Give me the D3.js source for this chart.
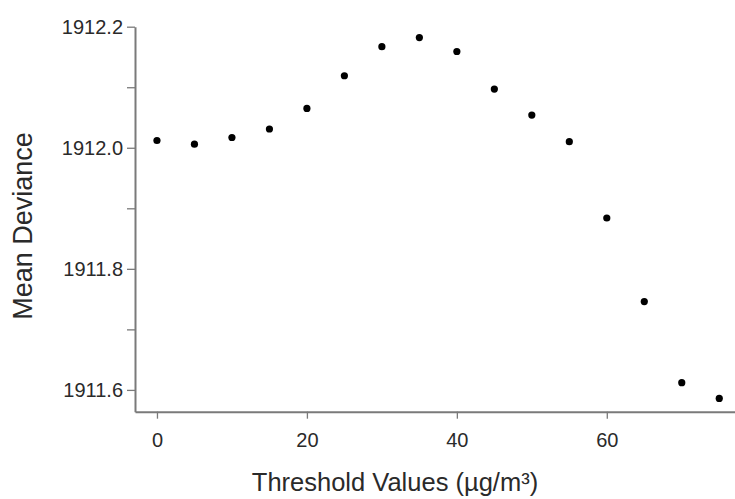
<!DOCTYPE html>
<html>
<head>
<meta charset="utf-8">
<script src="https://cdn.jsdelivr.net/npm/d3@7"></script>
<style>
  html, body { margin: 0; padding: 0; background: #fff; }
  svg { display: block; }
  .axis text { font-family: "Liberation Sans", Arial, Helvetica, sans-serif; fill: #2a2a2a; }
  .title { font-family: "Liberation Sans", Arial, Helvetica, sans-serif; fill: #2a2a2a; }
</style>
</head>
<body>
<script>
// ---- data ----
const thresholds = [0, 5, 10, 15, 20, 25, 30, 35, 40, 45, 50, 55, 60, 65, 70, 75];
const meanDeviance = [1912.012, 1912.006, 1912.017, 1912.031, 1912.065, 1912.119, 1912.167, 1912.182,
                      1912.159, 1912.097, 1912.054, 1912.010, 1911.884, 1911.746, 1911.612, 1911.586];
const xTicks = [0, 20, 40, 60];
const yTicks = [1911.6, 1911.7, 1911.8, 1911.9, 1912.0, 1912.1, 1912.2];
const yLabelTicks = [1911.6, 1911.8, 1912.0, 1912.2];
const xTitle = "Threshold Values (\u00B5g/m\u00B3)";
const yTitle = "Mean Deviance";

// ---- layout ----
const W = 735, H = 499;
const svg = d3.select("body").append("svg").attr("width", W).attr("height", H);

const x = d3.scaleLinear().domain([-2.93, 77.1]).range([135, 735]);
const y = d3.scaleLinear().domain([1911.564, 1912.2]).range([411.7, 26.7]);

const axisColor = "#7a7a7a";

// y axis
const yAxis = d3.axisLeft(y)
  .tickValues(yTicks)
  .tickSize(8)
  .tickSizeOuter(0)
  .tickPadding(4)
  .tickFormat(d => yLabelTicks.some(v => Math.abs(v - d) < 1e-6) ? d3.format(".1f")(d) : "");
const gy = svg.append("g").attr("class", "axis").attr("transform", "translate(135,0)").call(yAxis);
gy.selectAll("text").style("font-size", "20px");

// x axis
const xAxis = d3.axisBottom(x)
  .tickValues(xTicks)
  .tickSize(7)
  .tickSizeOuter(0)
  .tickPadding(14)
  .tickFormat(d3.format("d"));
const gx = svg.append("g").attr("class", "axis").attr("transform", "translate(0,411.7)").call(xAxis);
gx.selectAll("text").style("font-size", "20px");

[gx, gy].forEach(g => {
  g.select(".domain").attr("stroke", axisColor).attr("stroke-width", 2);
  g.selectAll(".tick line").attr("stroke", axisColor).attr("stroke-width", 1.3);
});

// points
svg.append("g").selectAll("circle")
  .data(thresholds.map((t, i) => ({ t, v: meanDeviance[i] })))
  .join("circle")
  .attr("cx", d => x(d.t))
  .attr("cy", d => y(d.v))
  .attr("r", 3.6)
  .attr("fill", "#000");

// titles
svg.append("text").attr("class", "title")
  .attr("x", 395).attr("y", 491)
  .attr("text-anchor", "middle")
  .style("font-size", "25.5px")
  .text(xTitle);

svg.append("text").attr("class", "title")
  .attr("transform", "translate(32,226) rotate(-90)")
  .attr("text-anchor", "middle")
  .style("font-size", "27px")
  .text(yTitle);
</script>
</body>
</html>
